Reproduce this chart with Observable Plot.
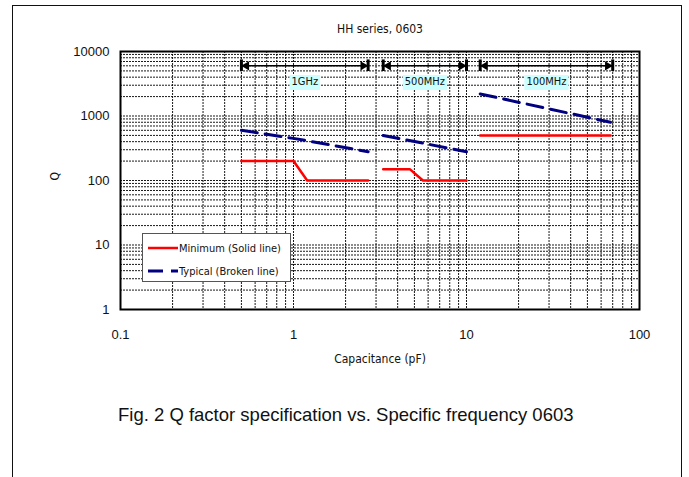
<!DOCTYPE html>
<html>
<head>
<meta charset="utf-8">
<script src="https://cdn.jsdelivr.net/npm/d3@7"></script>
<script src="https://cdn.jsdelivr.net/npm/@observablehq/plot@0.6"></script>
<style>
  html, body { margin: 0; padding: 0; background: #fff; }
  #wrap { position: relative; width: 689px; height: 477px; overflow: hidden; }
  #border { position: absolute; left: 12px; top: 5px; width: 668px; height: 500px;
            border-left: 1.5px solid #111; border-top: 1.5px solid #111; border-right: 1.5px solid #111; }
  #chart { position: absolute; left: 0; top: 0; }
  #legend { position: absolute; left: 142px; top: 233px; width: 147px; height: 47px;
            border: 1px solid #555; background: #fff; font-family: "DejaVu Sans Condensed", "DejaVu Sans", sans-serif;
            font-size: 11px; color: #111; }
  .lrow { position: absolute; left: 5px; height: 14px; display: flex; align-items: center; }
  .lrow svg { margin-right: 1px; }
  #caption { position: absolute; left: 118px; top: 404px; font-family: "Liberation Sans", Arial, sans-serif;
             font-size: 18.5px; color: #111; white-space: nowrap; }
</style>
</head>
<body>
<div id="wrap">
  <div id="border"></div>
  <div id="chart"></div>
  <div id="legend">
    <div class="lrow" style="top:7px"><svg width="30" height="6"><line x1="0" y1="3" x2="30" y2="3" stroke="#ff0000" stroke-width="2.5"/></svg>Minimum (Solid line)</div>
    <div class="lrow" style="top:30px"><svg width="30" height="6"><line x1="0" y1="3" x2="30" y2="3" stroke="#000080" stroke-width="3" stroke-dasharray="15,8"/></svg>Typical (Broken line)</div>
  </div>
  <div id="caption">Fig. 2 Q factor specification vs. Specific frequency 0603</div>
</div>
<script>
// ---- data ----
const chartTitle = "HH series, 0603";
const xLabel = "Capacitance (pF)";
const yLabel = "Q";
const xTicks = [0.1, 1, 10, 100];
const yTicks = [1, 10, 100, 1000, 10000];

const bandNames = ["1GHz", "500MHz", "100MHz"];
const bandStart = [0.5, 3.3, 12];
const bandEnd = [2.7, 10, 70];
const arrowQ = 6000;
const barQLow = 4900;
const barQHigh = 7400;
const labelQ = 3430;

// Minimum (solid) per band
const minCap = [[0.5, 1, 1.2, 2.7], [3.3, 4.7, 5.6, 10], [12, 68]];
const minQ   = [[200, 200, 100, 100], [150, 150, 100, 100], [500, 500]];
// Typical (broken) per band
const typCap = [[0.5, 1, 2.7], [3.3, 10], [12, 68]];
const typQ   = [[600, 450, 280], [500, 280], [2200, 800]];

// ---- build tables ----
const minRows = minCap.flatMap((caps, b) => caps.map((c, i) => ({band: bandNames[b], cap: c, q: minQ[b][i]})));
const typRows = typCap.flatMap((caps, b) => caps.map((c, i) => ({band: bandNames[b], cap: c, q: typQ[b][i]})));
const bands = bandNames.map((name, i) => ({name, start: bandStart[i], end: bandEnd[i]}));
const barRows = bands.flatMap(b => [b.start, b.end]);

const decades = (lo, hi) => d3.range(lo, hi).flatMap(e => d3.range(1, 10).map(m => +(m * Math.pow(10, e)).toPrecision(6)));
const xGrid = decades(-1, 2).filter(v => v > 0.1);
const yGrid = decades(0, 4).filter(v => v > 1);

const labelFont = '"DejaVu Sans Condensed", "DejaVu Sans", sans-serif';

const plot = Plot.plot({
  width: 689,
  height: 370,
  marginTop: 51,
  marginBottom: 61,
  marginLeft: 120,
  marginRight: 50,
  style: {fontFamily: '"Liberation Sans", Arial, sans-serif', fontSize: "13px", color: "#111", background: "transparent"},
  x: {type: "log", domain: [0.1, 100], ticks: xTicks, tickFormat: d => String(d), tickSize: 0, tickPadding: 20, label: null},
  y: {type: "log", domain: [1, 10000], ticks: yTicks, tickFormat: d => String(d), tickSize: 0, tickPadding: 11, label: null},
  marks: [
    Plot.ruleX(xGrid, {stroke: "#000", strokeOpacity: 0.9, strokeWidth: 1, strokeDasharray: "2,1"}),
    Plot.ruleY(yGrid, {stroke: "#000", strokeOpacity: 0.9, strokeWidth: 1, strokeDasharray: "2,1"}),
    Plot.frame({stroke: "#000", strokeWidth: 2}),
    Plot.line(minRows, {x: "cap", y: "q", z: "band", stroke: "#ff0000", strokeWidth: 2.5}),
    Plot.line(typRows, {x: "cap", y: "q", z: "band", stroke: "#000080", strokeWidth: 3, strokeDasharray: "16,8"}),
    Plot.link(bands, {x1: "start", x2: "end", y1: () => arrowQ, y2: () => arrowQ, stroke: "#000", strokeWidth: 1.5}),
    Plot.ruleX(barRows, {x: d => d, y1: () => barQLow, y2: () => barQHigh, stroke: "#000", strokeWidth: 3}),
    Plot.dot(bands, {x: "start", y: () => arrowQ, symbol: "triangle", rotate: -90, r: 3.4, fill: "#000", stroke: null, dx: 5}),
    Plot.dot(bands, {x: "end", y: () => arrowQ, symbol: "triangle", rotate: 90, r: 3.4, fill: "#000", stroke: null, dx: -5}),
    Plot.text(bands, {x: d => Math.sqrt(d.start * d.end), y: () => labelQ, text: "name", fontFamily: labelFont, fontSize: 11, fill: "#111", className: "band-label"}),
    Plot.text([chartTitle], {frameAnchor: "top", dy: -27, fontFamily: labelFont, fontSize: 12, fill: "#111"}),
    Plot.text([xLabel], {frameAnchor: "bottom", dy: 53, fontFamily: labelFont, fontSize: 12, fill: "#111"}),
    Plot.text([yLabel], {frameAnchor: "left", dx: -65, rotate: -90, fontFamily: labelFont, fontSize: 12, fill: "#111"})
  ]
});
document.getElementById("chart").appendChild(plot);

// light cyan boxes behind the band labels
document.querySelectorAll("g.band-label text").forEach(t => {
  const bb = t.getBBox();
  const r = document.createElementNS("http://www.w3.org/2000/svg", "rect");
  r.setAttribute("x", bb.x - 2);
  r.setAttribute("y", bb.y);
  r.setAttribute("width", bb.width + 4);
  r.setAttribute("height", bb.height + 2);
  r.setAttribute("fill", "#ccffff");
  const tr = t.getAttribute("transform");
  if (tr) r.setAttribute("transform", tr);
  t.parentNode.insertBefore(r, t);
});
</script>
</body>
</html>
